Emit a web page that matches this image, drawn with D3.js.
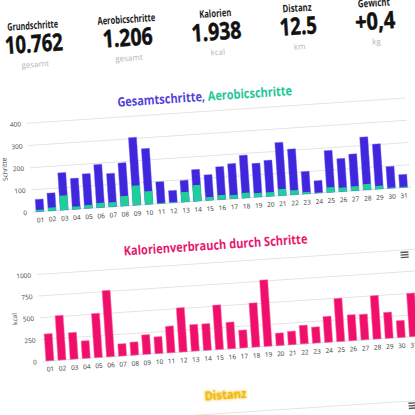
<!DOCTYPE html>
<html lang="de">
<head>
    <meta charset="UTF-8">
    <title>Schritte</title>
    <script type="text/javascript" src="https://cdn.jsdelivr.net/npm/d3@7/dist/d3.min.js"></script>
    <style type="text/css">
        body { margin: 0; background: #fff; }
        svg { display: block; font-family: "Open Sans", "Liberation Sans", sans-serif; }
    </style>
</head>
<body>
    <script type="text/javascript">
        //Width and height
        var w = 415;
        var h = 415;

        // header numbers
        var statLabels = ["Grundschritte", "Aerobicschritte", "Kalorien", "Distanz", "Gewicht"];
        var statValues = ["10.762", "1.206", "1.938", "12.5", "+0,4"];
        var statUnits = ["gesamt", "gesamt", "kcal", "km", "kg"];

        // days of the month
        var days = ["01","02","03","04","05","06","07","08","09","10","11","12","13","14","15","16",
                    "17","18","19","20","21","22","23","24","25","26","27","28","29","30","31"];

        var gesamt = [56, 80, 168, 139, 156, 194, 150, 194, 305, 251, 98, 55, 97, 142, 115, 148,
                      158, 192, 152, 162, 239, 206, 101, 56, 188, 148, 165, 238, 203, 98, 58];
        var aerobic = [8, 15, 65, 12, 15, 21, 20, 45, 88, 59, 3, 3, 45, 73, 15, 20,
                       17, 23, 18, 18, 29, 20, 8, 3, 23, 18, 20, 26, 15, 3, 3];
        var kcal = [310, 512, 306, 202, 508, 764, 140, 151, 225, 194, 306, 508, 306, 306, 512, 306,
                    205, 508, 764, 143, 155, 213, 186, 298, 496, 298, 295, 500, 298, 194, 500];

        var stepTicks = [0, 100, 200, 300, 400];
        var kcalTicks = [0, 250, 500, 750, 1000];

        var svg = d3.select("body")
            .append("svg")
            .attr("width", w)
            .attr("height", h);

        var defs = svg.append("defs");
        var glow = defs.append("filter").attr("id", "glow")
            .attr("x", "-30%").attr("y", "-60%").attr("width", "160%").attr("height", "220%");
        glow.append("feGaussianBlur").attr("stdDeviation", 1.6).attr("result", "b");
        var merge = glow.append("feMerge");
        merge.append("feMergeNode").attr("in", "b");
        merge.append("feMergeNode").attr("in", "SourceGraphic");

        // the whole screenshot is slightly tilted
        var g = svg.append("g").attr("transform", "rotate(-3.8, 207, 207)");

        //Header
        var colX = [45, 139, 228, 310, 387];
        var labelW = [51, 58, 32, 29, 32];
        var valueW = [58, 50, 50, 37, 40];

        var stat = g.selectAll("g.stat")
            .data(statLabels)
            .enter()
            .append("g")
            .attr("class", "stat")
            .attr("transform", function(d, i) { return "translate(" + colX[i] + ",0)"; });

        stat.append("text")
            .attr("y", 18)
            .attr("text-anchor", "middle")
            .attr("font-size", "10.5px")
            .attr("font-weight", "bold")
            .attr("fill", "#222")
            .attr("textLength", function(d, i) { return labelW[i]; })
            .attr("lengthAdjust", "spacingAndGlyphs")
            .text(function(d) { return d; });

        stat.append("text")
            .attr("y", 41)
            .attr("text-anchor", "middle")
            .attr("font-size", "24px")
            .attr("font-weight", "bold")
            .attr("fill", "#111")
            .attr("stroke", "#111")
            .attr("stroke-width", 0.5)
            .attr("textLength", function(d, i) { return valueW[i]; })
            .attr("lengthAdjust", "spacingAndGlyphs")
            .text(function(d, i) { return statValues[i]; });

        stat.append("text")
            .attr("y", 56)
            .attr("text-anchor", "middle")
            .attr("font-size", "8px")
            .attr("fill", "#b5b5b5")
            .text(function(d, i) { return statUnits[i]; });

        //Scales
        var xScale = d3.scaleBand()
            .domain(days)
            .range([34, 410.5])
            .paddingInner(0.34)
            .paddingOuter(0.17);

        var yStep = d3.scaleLinear().domain([0, 400]).range([200.5, 111.5]);
        var yKcal = d3.scaleLinear().domain([0, 1000]).range([350, 263]);

        function drawFrame(yScale, ticks, axisTitle, cy) {
            var grid = g.append("g");
            grid.selectAll("line")
                .data(ticks)
                .enter()
                .append("line")
                .attr("x1", 33)
                .attr("x2", 412)
                .attr("y1", function(d) { return yScale(d); })
                .attr("y2", function(d) { return yScale(d); })
                .attr("stroke", function(d) { return d === 0 ? "#cfe3ec" : "#e4e4e4"; })
                .attr("stroke-width", 1);

            var yAxis = d3.axisLeft(yScale).tickValues(ticks).tickFormat(d3.format("d"))
                .tickSize(0).tickPadding(0);
            var ya = g.append("g")
                .attr("transform", "translate(27,0)")
                .call(yAxis);
            ya.select(".domain").remove();
            ya.selectAll("text")
                .attr("font-size", "6.5px")
                .attr("fill", "#444")
                .attr("font-family", "Open Sans, sans-serif");

            var xAxis = d3.axisBottom(xScale).tickSize(0).tickPadding(6);
            var xa = g.append("g")
                .attr("transform", "translate(0," + yScale(0) + ")")
                .call(xAxis);
            xa.select(".domain").remove();
            xa.selectAll("text")
                .attr("font-size", "6.5px")
                .attr("fill", "#333")
                .attr("font-family", "Open Sans, sans-serif");

            g.append("text")
                .attr("transform", "translate(10," + cy + ") rotate(-90)")
                .attr("text-anchor", "middle")
                .attr("font-size", "6.5px")
                .attr("fill", "#444")
                .text(axisTitle);
        }

        function hamburger(x, y) {
            var m = g.append("g").attr("transform", "translate(" + x + "," + y + ")");
            m.selectAll("rect")
                .data([0, 1, 2])
                .enter()
                .append("rect")
                .attr("x", -4)
                .attr("y", function(d) { return d * 2.6 - 3.5; })
                .attr("width", 8)
                .attr("height", 1.4)
                .attr("fill", "#555");
        }

        //Chart 1: Gesamtschritte, Aerobicschritte
        var t1 = g.append("text")
            .attr("x", 212)
            .attr("y", 101)
            .attr("text-anchor", "middle")
            .attr("font-size", "13px")
            .attr("font-weight", "bold")
            .attr("textLength", 175)
            .attr("lengthAdjust", "spacingAndGlyphs");
        t1.append("tspan").attr("fill", "#5244d8").text("Gesamtschritte, ");
        t1.append("tspan").attr("fill", "#1ec797").text("Aerobicschritte");

        drawFrame(yStep, stepTicks, "Schritte", 156);

        g.append("g").selectAll("rect")
            .data(gesamt)
            .enter()
            .append("rect")
            .attr("x", function(d, i) { return xScale(days[i]); })
            .attr("y", function(d) { return yStep(d); })
            .attr("width", xScale.bandwidth())
            .attr("height", function(d) { return yStep(0) - yStep(d); })
            .attr("fill", "#3f27de")
            .attr("stroke", "#6a5ce8")
            .attr("stroke-width", 0.4);

        g.append("g").selectAll("rect")
            .data(aerobic)
            .enter()
            .append("rect")
            .attr("x", function(d, i) { return xScale(days[i]); })
            .attr("y", function(d) { return yStep(d); })
            .attr("width", xScale.bandwidth())
            .attr("height", function(d) { return yStep(0) - yStep(d); })
            .attr("fill", "#1fcf98");

        //Chart 2: Kalorienverbrauch durch Schritte
        g.append("text")
            .attr("x", 213)
            .attr("y", 250)
            .attr("text-anchor", "middle")
            .attr("font-size", "13px")
            .attr("font-weight", "bold")
            .attr("fill", "#e8176e")
            .attr("textLength", 184)
            .attr("lengthAdjust", "spacingAndGlyphs")
            .text("Kalorienverbrauch durch Schritte");

        drawFrame(yKcal, kcalTicks, "kcal", 306);
        hamburger(401, 268);

        g.append("g").selectAll("rect")
            .data(kcal)
            .enter()
            .append("rect")
            .attr("x", function(d, i) { return xScale(days[i]); })
            .attr("y", function(d) { return yKcal(d); })
            .attr("width", xScale.bandwidth())
            .attr("height", function(d) { return yKcal(0) - yKcal(d); })
            .attr("fill", "#f0106b")
            .attr("stroke", "#f76aa3")
            .attr("stroke-width", 0.5);

        //Chart 3: Distanz (only its top is visible)
        g.append("text")
            .attr("x", 213)
            .attr("y", 400)
            .attr("text-anchor", "middle")
            .attr("font-size", "12px")
            .attr("font-weight", "bold")
            .attr("fill", "#f2b600")
            .attr("filter", "url(#glow)")
            .attr("textLength", 42)
            .attr("lengthAdjust", "spacingAndGlyphs")
            .text("Distanz");

        g.append("line")
            .attr("x1", 33)
            .attr("x2", 412)
            .attr("y1", 414)
            .attr("y2", 414)
            .attr("stroke", "#e4e4e4");
        hamburger(399, 419);
    </script>
</body>
</html>
